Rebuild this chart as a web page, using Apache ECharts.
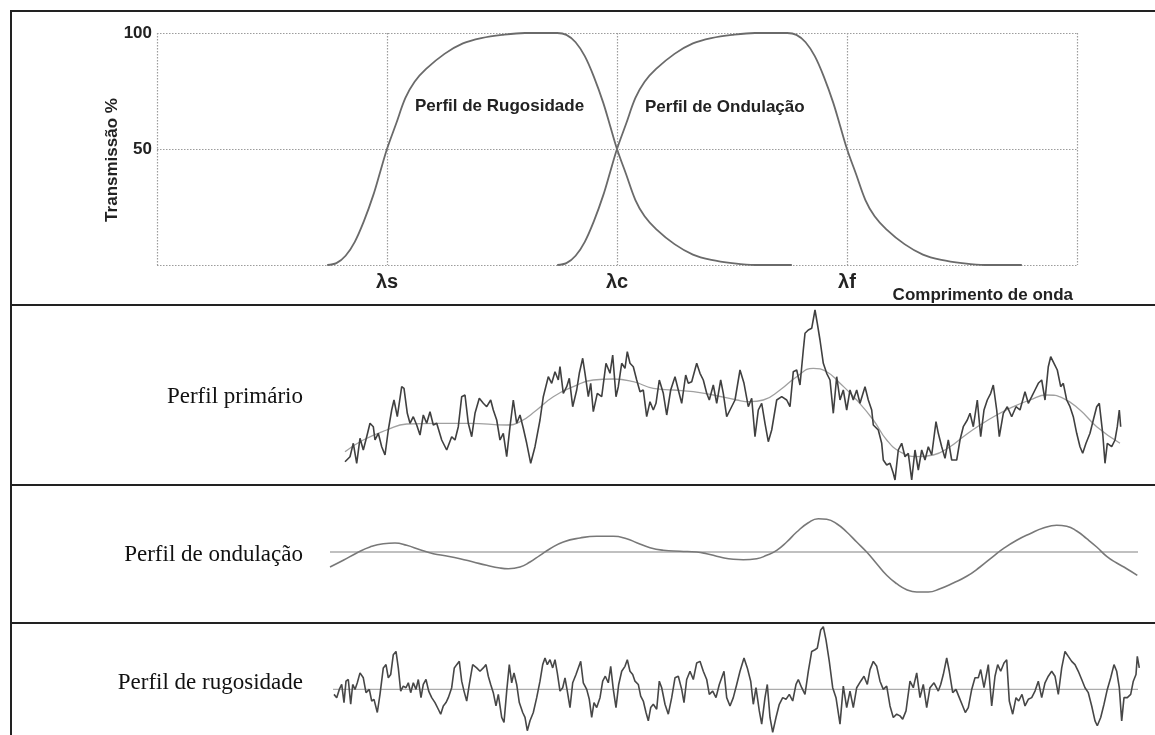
<!DOCTYPE html>
<html>
<head>
<meta charset="utf-8">
<script src="https://cdn.jsdelivr.net/npm/echarts@6/dist/echarts.min.js"></script>
<style>
html,body{margin:0;padding:0;background:#fff;}
#chart{width:1155px;height:735px;}
</style>
</head>
<body>
<div id="chart"></div>
<script>
// ---------- Transmission chart (top) ----------
const waveTicks = {1: 'λs', 2: 'λc', 3: 'λf'};
const transTicksY = [50, 100];
const roughTransX = [0.74,0.78,0.82,0.86,0.90,0.94,0.97,1.00,1.04,1.08,1.12,1.17,1.25,1.33,1.41,1.50,1.60,1.74,1.78,1.82,1.86,1.90,1.94,1.97,2.00,2.04,2.08,2.12,2.17,2.25,2.33,2.41,2.50,2.60,2.76];
const roughTransY = [0,0.8,4,10,19,30,40,50,61,72,79,84.5,91,95.5,97.8,99.2,100,100,99.2,96,90,81,70,60,50,39,28,21,15.5,9,4.5,2.2,0.8,0,0];
const waviTransX = [1.74,1.78,1.82,1.86,1.90,1.94,1.97,2.00,2.04,2.08,2.12,2.17,2.25,2.33,2.41,2.50,2.60,2.74,2.78,2.82,2.86,2.90,2.94,2.97,3.00,3.04,3.08,3.12,3.17,3.25,3.33,3.41,3.50,3.60,3.76];
const waviTransY = [0,0.8,4,10,19,30,40,50,61,72,79,84.5,91,95.5,97.8,99.2,100,100,99.2,96,90,81,70,60,50,39,28,21,15.5,9,4.5,2.2,0.8,0,0];

// ---------- Primary profile ----------
const primaryProfile = [[5,18.3],[10,23.3],[13.3,36.7],[16.7,16.7],[20,41.7],[23.3,30],[26.7,43.3],[30,56.7],[33.3,53.3],[35,40],[38.3,46.7],[41.7,33.3],[45,25],[48.3,50],[51.7,70],[54,80],[57.3,63.3],[61.7,93.3],[64,91.7],[67.3,66.7],[70,56.7],[73.3,63.3],[76.7,55],[80,45],[83.3,65],[86.7,56.7],[90,68.3],[93.3,55],[96.7,56.7],[101.7,40],[106.7,30],[111.7,43.3],[115,40],[118.3,53.3],[121.7,83.3],[125,85],[128.3,56.7],[131.7,43.3],[135,66.7],[139.3,81.7],[143.3,76.7],[146.7,73.3],[150.7,80],[153.3,70],[156.7,60],[160,40],[163.3,46.7],[166.7,23.3],[170,53.3],[173.3,80],[176.7,56.7],[180,65],[183.3,51.7],[186.7,36.7],[190.7,16.7],[195,33.3],[200,60],[203.3,83.3],[208.3,103.3],[211.7,96.7],[215,108.3],[218.3,100],[220,113.3],[223.3,86.7],[226.7,93.3],[229.3,101.7],[232.7,73.3],[236.7,90],[239.3,106.7],[242.7,121.7],[245,106.7],[248.3,83.3],[250.7,96.7],[253.3,68.3],[257.3,86.7],[261.7,83.3],[266,116.7],[270,106.7],[272.7,125],[276,83.3],[278.3,93.3],[281.7,116.7],[285,111.7],[287.3,128.3],[290,116.7],[293.3,113.3],[296.7,100],[300,88.3],[303.3,90],[306.7,63.3],[310,78.3],[313.3,70],[316,76.7],[319.3,100],[323.3,86.7],[326.7,65],[330.7,90],[335,103.3],[338.3,90],[341.7,76.7],[345.7,105],[348.3,96.7],[351.7,98.3],[356.7,116.7],[360,106.7],[363.3,100],[366.7,86.7],[369.3,80],[373.3,95],[376.7,76.7],[380.7,100],[383.3,86.7],[386.7,63.3],[390,70],[395,80],[400,110],[404,96.7],[408.3,73.3],[411.7,81.7],[415,43.3],[418.3,70],[421.7,76.7],[425,56.7],[428.3,38.3],[431.7,50],[436.7,80],[441.7,83.3],[446.7,80],[450,73.3],[453.3,108.3],[456.7,110],[460,95],[463.3,130],[465,146.7],[468.3,150],[471.7,151.7],[475,170],[477.3,156.7],[480,140],[483.3,116.7],[486.7,106.7],[490,100],[493.3,66.7],[496.7,103.3],[500,80],[503.3,90],[506.7,70],[510,90],[513.3,80],[516.7,90],[520,76.7],[525,93.3],[528.3,80],[531.7,70],[533.3,55],[538.3,50],[541.7,36.7],[543.3,20],[546.7,15],[550,16.7],[553.3,6.7],[555,0],[558.3,30],[561.7,36.7],[565,23.3],[568.3,26.7],[571.7,0],[575,30],[578.3,10],[581.7,30],[585,20],[588.3,33.3],[591.7,25],[596,58.3],[598.3,46.7],[601.7,33.3],[605,21.7],[608.3,40],[611.7,20],[616.7,20],[620,40],[623.3,53.3],[627.3,60],[630,66.7],[633.3,53.3],[637.3,80],[640.7,43.3],[644,70],[647.3,80],[650.7,86.7],[653.3,95],[656.7,70],[659.3,43.3],[663.3,66.7],[667.3,73.3],[671.7,63.3],[676,73.3],[680,70],[685,88.3],[688.3,76.7],[691.7,83.3],[695,90],[698.3,96.7],[701.7,100],[705,80],[708.3,113.3],[710.7,123.3],[714,116.7],[717.3,110],[720.7,93.3],[723.3,96.7],[726.7,80],[730,73.3],[733.3,63.3],[736.7,46.7],[740,33.3],[742.7,26.7],[746,36.7],[750,46.7],[753.3,60],[756.7,73.3],[759.3,76.7],[762.7,46.7],[765,16.7],[767.3,36.7],[771.7,33.3],[775,40],[777.3,53.3],[779.3,70],[780.7,53.3]];
const primaryMean = [[5,28.3],[23.3,40],[46.7,50],[66.7,56],[96.7,56.7],[130,56.7],[166.7,55],[180,58.3],[196.7,70],[213.3,83.3],[233.3,93.3],[253.3,100],[273.3,101],[293.3,98.3],[313.3,91.7],[333.3,90],[353.3,88.3],[373.3,85],[396.7,80],[410,78.3],[423.3,80],[440,90],[456.7,103.3],[473.3,111.7],[486.7,108.3],[500,96.7],[516.7,80],[533.3,60],[546.7,40],[560,28.3],[576.7,23.3],[593.3,25],[610,33.3],[623.3,43.3],[640,55],[656.7,65],[673.3,73.3],[690,80],[706.7,85],[723.3,81.7],[740,70],[756.7,53.3],[780,36.7]];

// ---------- Waviness profile ----------
const waviProfile = [[-10,-15],[3.3,-8.3],[16.7,-1],[30,5],[43.3,8.3],[55,9],[66.7,6.7],[80,2.3],[93.3,-1.7],[106.7,-4],[120,-6.7],[133.3,-10],[146.7,-13.3],[160,-16],[168.3,-16.7],[180,-15],[190,-10],[200,-3.3],[210,3.3],[223.3,10],[240,14],[256.7,15.7],[273.3,15.7],[286.7,13.3],[296.7,9.3],[310,4.3],[323.3,1.7],[340,0.7],[356.7,0],[366.7,-1.7],[380,-5],[393.3,-7.3],[403.3,-7.7],[416.7,-6.7],[426.7,-3.3],[436.7,1.7],[446.7,10],[456.7,20],[468.3,29.3],[478.3,33.3],[486.7,32.7],[496.7,28.3],[506.7,20],[516.7,10],[526.7,0],[536.7,-11.7],[546.7,-23.3],[556.7,-31.7],[566.7,-37.7],[576.7,-40],[588.3,-40],[600,-36.7],[613.3,-31],[626.7,-24.3],[640,-15],[653.3,-4.3],[663.3,3.3],[676.7,11.7],[690,18.3],[703.3,24],[716.7,26.7],[726.7,25.7],[736.7,21],[746.7,13.3],[756.7,5],[766.7,-4.3],[776.7,-11],[786.7,-16.7],[797.3,-23.3]];
const waviMeanX = [-10, 798];

// ---------- Roughness profile ----------
const roughProfile = [[-6,-5],[-3.3,-8.3],[-0.7,0],[1.7,5],[4,-13.3],[6,8.3],[8.3,10],[10.7,-15],[12.7,5],[15,0],[17.3,6.7],[20,16.7],[23.3,11.7],[26,-3.3],[29.3,0],[31.7,-11.7],[34,-10],[37.3,-23.3],[40,-5],[43.3,21.7],[46,25],[48.3,11.7],[50.7,15],[53.3,35],[56,38.3],[58.3,21.7],[60.7,-1.7],[63.3,3.3],[66,1.7],[68.3,6.7],[70.7,-3.3],[73.3,6.7],[76,0],[78.3,10],[81,-8.3],[83.3,5],[86,10],[88.7,-1.7],[91.7,-8.3],[95,-13.3],[98.3,-20],[100.7,-25],[103.3,-16.7],[106,-13.3],[108.3,-8.3],[111.7,1.7],[114.3,21.7],[116.7,25],[119.3,28.3],[121.7,8.3],[124,-1.7],[126.7,-11.7],[129.3,5],[132.7,25],[136.7,21.7],[140,18.3],[143.3,21.7],[146,25],[148.3,13.3],[150.7,5],[153.3,-3.3],[156,-16.7],[158.3,-5],[161.7,-28.3],[164,-33.3],[166.7,-1.7],[169.3,25],[171.7,6.7],[174,16.7],[176.7,5],[179.3,-13.3],[182.7,-23.3],[185,-28.3],[187.3,-41.7],[190,-31.7],[193.3,-23.3],[196.7,-8.3],[200,8.3],[202.7,25],[205,31.7],[207.3,25],[210,30],[212.7,21.7],[215,30],[217.3,16.7],[220,-1.7],[222.7,1.7],[225,11.7],[227.3,-1.7],[230,-18.3],[232.7,6.7],[236,15],[238.3,21.7],[240.7,28.3],[243.3,6.7],[246.7,0],[249.3,-10],[251.7,-28.3],[254,-13.3],[256.7,-18.3],[260,-8.3],[262.7,8.3],[265.3,13.3],[268.3,6.7],[270.7,23.3],[273.3,0],[276,-18.3],[278.7,5],[281.7,18.3],[285,23.3],[287.3,30],[290,18.3],[292.7,15],[295,8.3],[298.3,5],[300.7,-6.7],[303.3,-11.7],[306,-23.3],[308.3,-31.7],[310.7,-18.3],[313.3,-15],[316.7,-20],[319.3,8.3],[321.7,1.7],[325,-15],[328.3,-25],[331.7,-8.3],[335,11.7],[338.3,13.3],[341.7,0],[344,-13.3],[346.7,10],[350,18.3],[353.3,10],[356.7,26.7],[360,28.3],[363.3,18.3],[366.7,10],[369.3,-5],[372.7,-1.7],[376,-8.3],[379.3,5],[381.7,11.7],[384,18.3],[386.7,-8.3],[390,-16.7],[393.3,-8.3],[396.7,5],[400,18.3],[404,31.7],[407.3,21.7],[410.7,8.3],[413.3,-15],[416,1.7],[419.3,-21.7],[421.7,-35],[425,-8.3],[427.3,5],[430,-28.3],[432.7,-43.3],[436,-28.3],[439.3,-15],[442.7,-8.3],[446,-10],[449.3,-5],[452.7,-11.7],[456,5],[458.3,10],[461.7,1.7],[465,-5],[468.3,18.3],[471.7,38.3],[475,40],[477.3,41.7],[480.7,60],[483.3,63.3],[486,50],[489.3,28.3],[492.7,1.7],[496,-8.3],[500,-35],[503.3,3.3],[506.7,-18.3],[510,-1.7],[513.3,-18.3],[516.7,1.7],[520.7,8.3],[524,13.3],[527.3,5],[530,20],[533.3,28.3],[536.7,23.3],[540,8.3],[543.3,0],[546.7,3.3],[550,-16.7],[553.3,-28.3],[556.7,-25],[560,-26.7],[562.7,-30],[566,-21.7],[570,8.3],[573.3,1.7],[576.7,16.7],[580,-8.3],[583.3,5],[586.7,-18.3],[590,1.7],[594,6.7],[598.3,-1.7],[600.7,5],[603.3,15],[606.7,31.7],[609.3,18.3],[612.7,-3.3],[616,0],[619.3,-8.3],[622.7,-16.7],[625.3,-23.3],[628.3,-18.3],[631.7,0],[635,11.7],[638.3,11.7],[640.7,20],[644,1.7],[648.3,25],[651.7,-16.7],[655,13.3],[657.7,25],[660.7,18.3],[664,26.7],[666.7,30],[669.3,-11.7],[672.7,-25],[676,-8.3],[678.7,-11.7],[682,-5],[685,-16.7],[688.3,-10],[691.7,-8.3],[695,-1.7],[698.3,8.3],[701.7,-8.3],[705,6.7],[708.3,13.3],[711.7,18.3],[715,13.3],[718.3,-5],[721.7,21.7],[725,38.3],[728.3,33.3],[731.7,28.3],[735,25],[738.3,18.3],[741.7,10],[745,1.7],[748.3,-3.3],[751.7,-16.7],[755,-31.7],[757.3,-36.7],[760.7,-28.3],[764,-15],[767.3,0],[770.7,11.7],[774,25],[776.7,18.3],[779.3,1.7],[781.7,-31.7],[784,-8.3],[787.3,-8.3],[790.7,-5],[793.3,8.3],[796,15],[797.3,33.3],[799.3,21.7]];
const roughMeanX = [-7, 798];

// ---------- Labels ----------
const panelLabels = ['Perfil primário', 'Perfil de ondulação', 'Perfil de rugosidade'];
const curveLabels = ['Perfil de Rugosidade', 'Perfil de Ondulação'];
const xAxisTitle = 'Comprimento de onda';
const yAxisTitle = 'Transmissão %';

const pair = (xs, ys) => xs.map((x, i) => [x, ys[i]]);
const flat = xs => xs.map(x => [x, 0]);

const chart = echarts.init(document.getElementById('chart'), null, {renderer: 'canvas'});
const sans = "'Liberation Sans', Arial, sans-serif";
const serif = "'Liberation Serif', 'Times New Roman', serif";
const dotted = {show: true, lineStyle: {color: '#9c9c9c', width: 1.2, type: [1.5, 1.5]}};
const hiddenX = (i) => ({gridIndex: i, type: 'value', min: -20, max: 800, show: false});

const frameLine = (x1, y1, x2, y2) => ({type: 'line', silent: true, z: 100,
  shape: {x1, y1, x2, y2}, style: {stroke: '#222', lineWidth: 2}});

const option = {
  backgroundColor: '#fff',
  animation: false,
  grid: [
    {left: 157, top: 33, width: 920, height: 232},
    {left: 320, top: 300, width: 820, height: 180},
    {left: 320, top: 490, width: 820, height: 130},
    {left: 320, top: 624, width: 820, height: 112}
  ],
  xAxis: [
    {gridIndex: 0, type: 'value', min: 0, max: 4, interval: 1,
     axisLine: {show: false}, axisTick: {show: false},
     splitLine: dotted,
     axisLabel: {margin: 7, fontFamily: sans, fontWeight: 'bold', fontSize: 20, color: '#222',
       formatter: v => waveTicks[v] || ''}},
    hiddenX(1), hiddenX(2), hiddenX(3)
  ],
  yAxis: [
    {gridIndex: 0, type: 'value', min: 0, max: 100, interval: 50,
     axisLine: {show: false}, axisTick: {show: false},
     splitLine: dotted,
     axisLabel: {margin: 5, fontFamily: sans, fontWeight: 'bold', fontSize: 17, color: '#222',
       formatter: v => transTicksY.indexOf(v) >= 0 ? String(v) : ''}},
    {gridIndex: 1, type: 'value', min: 0, max: 180, show: false},
    {gridIndex: 2, type: 'value', min: -68, max: 62, show: false},
    {gridIndex: 3, type: 'value', min: -46, max: 66, show: false}
  ],
  series: [
    {type: 'line', xAxisIndex: 0, yAxisIndex: 0, data: pair(roughTransX, roughTransY),
     smooth: 0.35, showSymbol: false, clip: false, lineStyle: {color: '#6a6a6a', width: 1.8}},
    {type: 'line', xAxisIndex: 0, yAxisIndex: 0, data: pair(waviTransX, waviTransY),
     smooth: 0.35, showSymbol: false, clip: false, lineStyle: {color: '#6a6a6a', width: 1.8}},
    {type: 'line', xAxisIndex: 1, yAxisIndex: 1, data: primaryMean,
     smooth: 0.5, showSymbol: false, clip: false, lineStyle: {color: '#a0a0a0', width: 1.3}},
    {type: 'line', xAxisIndex: 1, yAxisIndex: 1, data: primaryProfile,
     showSymbol: false, clip: false, lineStyle: {color: '#404040', width: 1.6}},
    {type: 'line', xAxisIndex: 2, yAxisIndex: 2, data: flat(waviMeanX),
     showSymbol: false, clip: false, lineStyle: {color: '#ababab', width: 1.6}},
    {type: 'line', xAxisIndex: 2, yAxisIndex: 2, data: waviProfile,
     smooth: 0.5, showSymbol: false, clip: false, lineStyle: {color: '#787878', width: 1.6}},
    {type: 'line', xAxisIndex: 3, yAxisIndex: 3, data: flat(roughMeanX),
     showSymbol: false, clip: false, lineStyle: {color: '#ababab', width: 1.4}},
    {type: 'line', xAxisIndex: 3, yAxisIndex: 3, data: roughProfile,
     showSymbol: false, clip: false, lineStyle: {color: '#474747', width: 1.6}}
  ],
  graphic: [
    frameLine(11, 11, 1155, 11),
    frameLine(11, 10, 11, 735),
    frameLine(11, 305, 1155, 305),
    frameLine(11, 485, 1155, 485),
    frameLine(11, 623, 1155, 623),
    {type: 'text', x: 112, y: 160, rotation: Math.PI / 2,
     style: {text: yAxisTitle, font: "bold 17px " + sans, fill: '#222', align: 'center', verticalAlign: 'middle'}},
    {type: 'text', left: 415, top: 98, style: {text: curveLabels[0], font: "bold 17px " + sans, fill: '#222'}},
    {type: 'text', left: 645, top: 99, style: {text: curveLabels[1], font: "bold 17px " + sans, fill: '#222'}},
    {type: 'text', right: 82, top: 287, style: {text: xAxisTitle, font: "bold 17px " + sans, fill: '#222'}},
    {type: 'text', right: 852, top: 385, style: {text: panelLabels[0], font: "23px " + serif, fill: '#111'}},
    {type: 'text', right: 852, top: 543, style: {text: panelLabels[1], font: "23px " + serif, fill: '#111'}},
    {type: 'text', right: 852, top: 671, style: {text: panelLabels[2], font: "23px " + serif, fill: '#111'}}
  ]
};
chart.setOption(option);
</script>
</body>
</html>
